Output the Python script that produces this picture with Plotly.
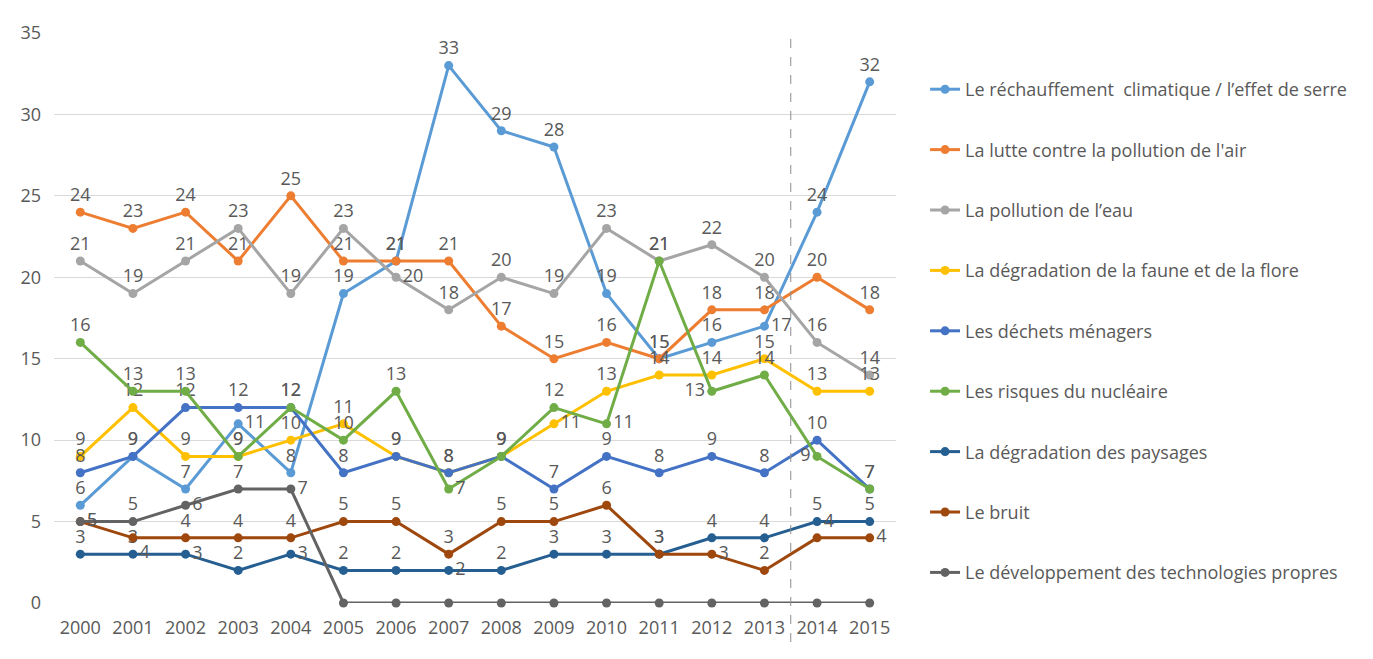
import plotly.graph_objects as go

years = list(range(2000, 2016))

names = [
    "Le réchauffement  climatique / l’effet de serre",
    "La lutte contre la pollution de l'air",
    "La pollution de l’eau",
    "La dégradation de la faune et de la flore",
    "Les déchets ménagers",
    "Les risques du nucléaire",
    "La dégradation des paysages",
    "Le bruit",
    "Le développement des technologies propres",
]

rechauffement = [6, 9, 7, 11, 8, 19, 21, 33, 29, 28, 19, 15, 16, 17, 24, 32]
pollution_air = [24, 23, 24, 21, 25, 21, 21, 21, 17, 15, 16, 15, 18, 18, 20, 18]
pollution_eau = [21, 19, 21, 23, 19, 23, 20, 18, 20, 19, 23, 21, 22, 20, 16, 14]
faune_flore = [9, 12, 9, 9, 10, 11, 9, 8, 9, 11, 13, 14, 14, 15, 13, 13]
dechets = [8, 9, 12, 12, 12, 8, 9, 8, 9, 7, 9, 8, 9, 8, 10, 7]
nucleaire = [16, 13, 13, 9, 12, 10, 13, 7, 9, 12, 11, 21, 13, 14, 9, 7]
paysages = [3, 3, 3, 2, 3, 2, 2, 2, 2, 3, 3, 3, 4, 4, 5, 5]
bruit = [5, 4, 4, 4, 4, 5, 5, 3, 5, 5, 6, 3, 3, 2, 4, 4]
technologies = [5, 5, 6, 7, 7, 0, 0, 0, 0, 0, 0, 0, 0, 0, 0, 0]

series = [rechauffement, pollution_air, pollution_eau, faune_flore, dechets,
          nucleaire, paysages, bruit, technologies]
colors = ["#5B9BD5", "#ED7D31", "#A5A5A5", "#FFC000", "#4472C4",
          "#70AD47", "#255E91", "#9E480E", "#636363"]

# label placement overrides (series index -> {year index: position})
label_pos = {
    0: {3: "middle right", 13: "middle right"},
    2: {6: "middle right"},
    3: {9: "middle right"},
    5: {7: "middle right", 10: "middle right", 12: "middle left", 14: "middle left"},
    6: {2: "middle right", 4: "middle right", 7: "middle right"},
    7: {0: "middle right", 1: "bottom right", 12: "middle right", 14: "top right", 15: "middle right"},
    8: {0: "middle right", 2: "middle right", 4: "middle right"},
}

FONT = "Open Sans"
GREY = "#595959"

fig = go.Figure()
for i, (nm, vals, col) in enumerate(zip(names, series, colors)):
    pos = ["top center"] * len(vals)
    for k, p in label_pos.get(i, {}).items():
        pos[k] = p
    txt = ["" if (i == 8 and v == 0) else str(v) for v in vals]
    fig.add_trace(go.Scatter(
        x=years, y=vals, name=nm, mode="lines+markers+text",
        line=dict(color=col, width=3),
        marker=dict(color=col, size=9),
        text=txt, textposition=pos,
        textfont=dict(family=FONT, size=18, color=GREY),
        legendgroup=nm, cliponaxis=False,
    ))

fig.add_shape(type="line", x0=2013.5, x1=2013.5, xref="x", yref="paper",
              y0=-0.1, y1=0.993, line=dict(color="#8C8C8C", width=1, dash="dash"))

fig.update_layout(
    width=1357, height=643,
    margin=dict(l=46, r=469, t=13, b=43),
    paper_bgcolor="white", plot_bgcolor="white",
    font=dict(family=FONT, size=18, color=GREY),
    showlegend=True,
    legend=dict(
        xref="container", yref="container", x=0.6758, y=0.902,
        xanchor="left", yanchor="top",
        traceorder="grouped", tracegroupgap=34, maxheight=620,
        font=dict(family=FONT, size=18, color=GREY),
        bgcolor="rgba(0,0,0,0)",
    ),
    xaxis=dict(range=[1999.5, 2015.5], tickmode="array", tickvals=years,
               ticktext=[str(y) for y in years], showgrid=False, zeroline=False,
               showline=False, ticks="", ticklabelstandoff=12,
               tickfont=dict(size=18, color=GREY)),
    yaxis=dict(range=[0, 35], dtick=5, showgrid=True, gridcolor="#D9D9D9",
               gridwidth=1, zeroline=False, showline=False, ticks="",
               ticklabelstandoff=12, tickfont=dict(size=18, color=GREY)),
)

fig.write_html("out.html")
